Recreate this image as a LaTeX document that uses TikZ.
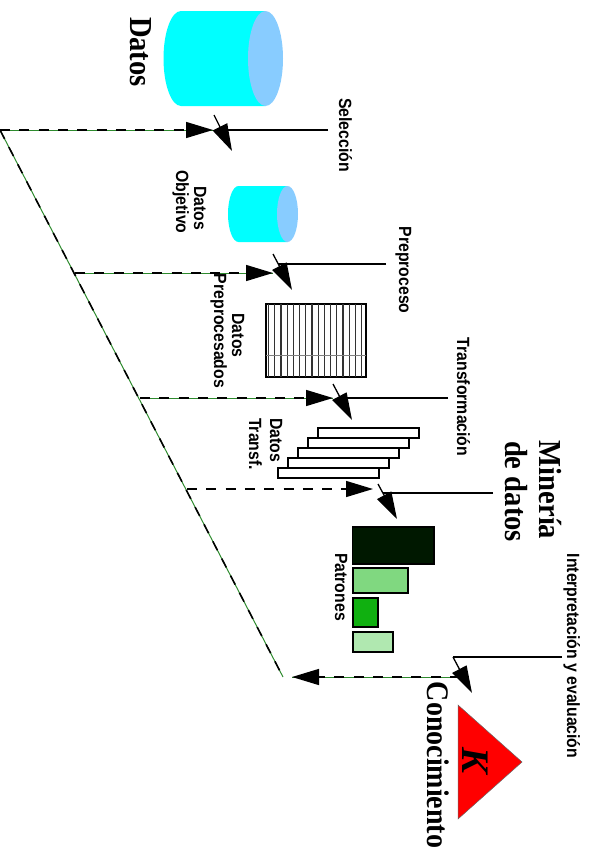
\documentclass[tikz,border=0pt]{standalone}
\usepackage{fontspec}
\setmainfont{Liberation Serif}
\setsansfont{Liberation Sans}
\usetikzlibrary{arrows.meta}
\definecolor{cylcyan}{HTML}{00FFFF}
\definecolor{capblue}{HTML}{88CCFF}
\definecolor{dashgreen}{HTML}{2E8B2E}
\definecolor{patdark}{HTML}{001800}
\definecolor{patmid}{HTML}{80D880}
\definecolor{patgreen}{HTML}{10B010}
\definecolor{patlight}{HTML}{B0E8B0}
\tikzset{
    lbl/.style = {rotate = -90, yscale = 1.12, anchor = base, inner sep = 0pt, font = \sffamily\bfseries\fontsize{15.8}{16}\selectfont},
    biglbl/.style = {rotate = -90, yscale = 1.12, anchor = base, inner sep = 0pt, font = \rmfamily\bfseries\fontsize{28.6}{29}\selectfont},
    tip/.style = {-{Triangle[length = 27pt, width = 16pt]}},
    head/.style = {tip, line width = 1.3pt},
    feed/.style = {tip, line width = 1.4pt, dash pattern = on 10pt off 9.3pt},
    under/.style = {dashgreen, line width = 1pt},
    patbox/.style = {line width = 1.2pt}
}
\begin{document}
\begin{tikzpicture}[x = 1pt, y = -1pt]
    \useasboundingbox (0, 0) rectangle (590, 854);

    % cylinders
    \fill[cylcyan] (181, 11) -- (265.5, 11) -- (265.5, 106) -- (181, 106) arc (90:270:17.5 and 47.5) -- cycle;
    \fill[capblue] (265.5, 58.5) ellipse (17.5 and 47.5);
    \fill[cylcyan] (238.5, 186) -- (287.5, 186) -- (287.5, 242) -- (238.5, 242) arc (90:270:10.5 and 28) -- cycle;
    \fill[capblue] (287.5, 214) ellipse (10.5 and 28);

    % grid
    \draw[line width = 1.5pt] (266, 304) rectangle (366, 377);
    \foreach \k in {0, ..., 15}
        \draw[line width = 1.2pt, black!80] ({268.5 + 6.2 * \k}, 304) -- ({268.5 + 6.2 * \k}, 377);
    \draw[line width = 0.1pt, black!50] (266, 355.5) -- (366, 355.5);

    % stacked bars
    \foreach \i in {0, ..., 4}
        \draw[line width = 2.4pt, fill = white] ({318 - 10 * \i}, {428 + 10 * \i}) rectangle ({419 - 10 * \i}, {438 + 10 * \i});

    % patterns
    \draw[patbox, fill = patdark] (352.5, 527) rectangle (434, 564);
    \draw[patbox, fill = patmid] (353, 568) rectangle (408, 593);
    \draw[patbox, fill = patgreen] (353, 598) rectangle (378, 627);
    \draw[patbox, fill = patlight] (353, 632) rectangle (393, 652);

    % knowledge
    \draw[fill = red, line width = 0.5pt, draw = black!60] (458, 705) -- (522, 762) -- (458, 819) -- cycle;
    \node[rotate = -90, anchor = base, inner sep = 0pt, font = \rmfamily\bfseries\itshape\fontsize{39}{39}\selectfont] (K) at (462, 760) {K};

    % labels
    \node[biglbl] (Datos) at (130.5, 52) {Datos};
    \node[lbl] (DatosObj) at (194, 208) {Datos};
    \node[lbl] (Objetivo) at (176, 202) {Objetivo};
    \node[lbl] (DatosPre) at (232, 335.5) {Datos};
    \node[lbl] (Preprocesados) at (214, 331) {Preprocesados};
    \node[lbl] (DatosTr) at (270, 440) {Datos};
    \node[lbl] (Transf) at (249, 444) {Transf.};
    \node[lbl] (Patrones) at (335, 587) {Patrones};
    \node[lbl] (Seleccion) at (339, 135) {Selección};
    \node[lbl] (Preproceso) at (399, 270) {Preproceso};
    \node[lbl] (Transformacion) at (457, 397) {Transformación};
    \node[lbl] (Interpretacion) at (567, 656) {Interpretación y evaluación};
    \node[biglbl] (Mineria) at (539, 490) {Minería};
    \node[biglbl] (DeDatos) at (505, 491.5) {de datos};
    \node[biglbl, font = \rmfamily\bfseries\fontsize{28}{28}\selectfont] (Conocimiento) at (427, 765) {Conocimiento};

    % connector ends
    \coordinate (O1) at (0, 130);
    \coordinate (O2) at (75, 273);
    \coordinate (O3) at (140, 398);
    \coordinate (O4) at (187, 489);
    \coordinate (O5) at (283, 677);
    \coordinate (E1) at (213, 130);
    \coordinate (E2) at (273, 273);
    \coordinate (E3) at (333, 398);
    \coordinate (E4) at (373, 489);
    \coordinate (E5) at (292, 677);
    \coordinate (F5) at (460, 677);

    \coordinate (S1) at (214, 115);
    \coordinate (T1) at (232, 151);
    \coordinate (J1) at (221.5, 130);
    \coordinate (H1) at (328, 130);
    \coordinate (S2) at (273, 254);
    \coordinate (T2) at (292, 290);
    \coordinate (J2) at (278, 264);
    \coordinate (H2) at (386, 264);
    \coordinate (S3) at (333, 384);
    \coordinate (T3) at (352, 420);
    \coordinate (J3) at (340, 398);
    \coordinate (H3) at (448, 398);
    \coordinate (S4) at (378, 484);
    \coordinate (T4) at (397, 519);
    \coordinate (J4) at (383, 493);
    \coordinate (H4) at (493, 493);
    \coordinate (S5) at (453, 657);
    \coordinate (T5) at (472, 693);
    \coordinate (H5) at (562, 657);

    % feedback lines
    \draw[under] (O1) to (O5);
    \draw[line width = 1.6pt, dash pattern = on 10pt off 9.3pt] (O1) to (O5);
    \foreach \a/\b in {O1/E1, O2/E2, O3/E3, E5/F5}
        \draw[under] (\a) to (\b);
    \foreach \a/\b in {O1/E1, O2/E2, O3/E3, O4/E4, F5/E5}
        \draw[feed] (\a) to (\b);

    % step arrows
    \foreach \n in {1, ..., 5}
        \draw[head] (S\n) to (T\n);
    \foreach \n in {1, ..., 4}
        \draw[line width = 1.3pt] (H\n) to (J\n);
    \draw[line width = 1.3pt] (H5) to (S5);
\end{tikzpicture}
\end{document}
